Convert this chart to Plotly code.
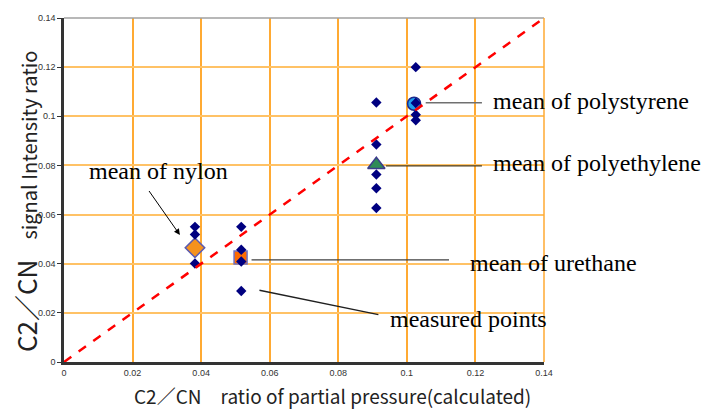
import plotly.graph_objects as go

# Measured points (x = calculated ratio, y = measured signal intensity ratio)
nylon_x = 0.0382
nylon_y = [0.0550, 0.0519, 0.0401]
urethane_x = 0.0517
urethane_y = [0.0550, 0.0457, 0.0409, 0.0289]
polyethylene_x = 0.0911
polyethylene_y = [0.1056, 0.0885, 0.0763, 0.0707, 0.0627]
polystyrene_x = 0.1026
polystyrene_y = [0.1200, 0.1054, 0.1006, 0.0984]

# Means
mean_names = ["nylon", "urethane", "polyethylene", "polystyrene"]
mean_x = [0.0382, 0.0515, 0.0911, 0.1021]
mean_y = [0.0465, 0.0425, 0.0803, 0.1051]

# y = x reference line
diag = [0, 0.14]

tick_vals = [0, 0.02, 0.04, 0.06, 0.08, 0.1, 0.12, 0.14]
tick_text = ["0", "0.02", "0.04", "0.06", "0.08", "0.1", "0.12", "0.14"]

meas_x = ([nylon_x] * len(nylon_y) + [urethane_x] * len(urethane_y)
          + [polyethylene_x] * len(polyethylene_y) + [polystyrene_x] * len(polystyrene_y))
meas_y = nylon_y + urethane_y + polyethylene_y + polystyrene_y

fig = go.Figure()

mean_styles = {
    "nylon": dict(symbol="diamond", size=15, color="#F5921E", line=dict(color="#5A5AB0", width=1.5)),
    "urethane": dict(symbol="square", size=13, color="#FF6A00", line=dict(color="#7070C0", width=1.5)),
    "polyethylene": dict(symbol="triangle-up", size=15, color="#2E8B57", line=dict(color="#3C3C8C", width=1.5)),
    "polystyrene": dict(symbol="circle", size=13, color="#1EA0F0", line=dict(color="#1E2A8C", width=1.5)),
}
for name, mx, my in zip(mean_names, mean_x, mean_y):
    fig.add_trace(go.Scatter(x=[mx], y=[my], mode="markers", marker=mean_styles[name],
                             showlegend=False, cliponaxis=False))

fig.add_trace(go.Scatter(x=meas_x, y=meas_y, mode="markers",
                         marker=dict(symbol="diamond", size=8, color="#000080"),
                         showlegend=False))

fig.add_trace(go.Scatter(x=diag, y=diag, mode="lines",
                         line=dict(color="#FF0000", width=2.5, dash="dash"),
                         showlegend=False))

serif = dict(family="Liberation Serif, Times New Roman, serif", size=24, color="#000000")

# leader lines
def seg(x0, y0, x1, y1, color):
    fig.add_shape(type="line", x0=x0, y0=y0, x1=x1, y1=y1, xref="x", yref="y",
                  line=dict(color=color, width=1.3))

seg(0.1055, 0.1055, 0.1219, 0.1055, "#707070")
seg(0.0939, 0.0798, 0.1219, 0.0798, "#4A3C20")
seg(0.0547, 0.0416, 0.1123, 0.0416, "#404040")
seg(0.0570, 0.0292, 0.0917, 0.0193, "#202020")

labels = [
    ("mean of polystyrene", 0.1245, 0.1063),
    ("mean of polyethylene", 0.1245, 0.0810),
    ("mean of urethane", 0.1178, 0.0401),
    ("measured points", 0.0945, 0.0177),
    ("mean of nylon", 0.0067, 0.0778),
]
for txt, tx, ty in labels:
    fig.add_annotation(x=tx, y=ty, xref="x", yref="y", text=txt, showarrow=False,
                       xanchor="left", yanchor="middle", font=serif)

fig.add_annotation(x=0.0338, y=0.0517, ax=0.0245, ay=0.0702, xref="x", yref="y",
                   axref="x", ayref="y", text="", showarrow=True, arrowhead=2,
                   arrowsize=1.2, arrowwidth=1, arrowcolor="#000000")

# axis titles
cjk = "Noto Sans CJK JP, sans-serif"
fig.add_annotation(x=0.5, y=0, xref="paper", yref="paper", xanchor="center", yanchor="middle",
                   xshift=28, yshift=-33, showarrow=False,
                   text="C2／CN　ratio of partial pressure(calculated)",
                   font=dict(family=cjk, size=19, color="#222222"))
fig.add_annotation(x=0, y=0.5, xref="paper", yref="paper", xanchor="center", yanchor="middle",
                   xshift=-39, yshift=-12, showarrow=False, textangle=-90,
                   text="<span style='font-size:26px'>C2／CN</span>　signal Intensity ratio",
                   font=dict(family=cjk, size=20, color="#222222"))

# top border (gray) and right border (orange)
fig.add_shape(type="line", x0=0, x1=1, y0=1, y1=1, xref="paper", yref="paper",
              line=dict(color="#A0A0A0", width=1.5))
fig.add_shape(type="line", x0=1, x1=1, y0=0, y1=1, xref="paper", yref="paper",
              line=dict(color="#FFAA33", width=1.5))

fig.update_layout(
    width=703, height=402,
    margin=dict(l=56, r=167, t=5, b=48),
    plot_bgcolor="#FFFFFF", paper_bgcolor="#FFFFFF",
    xaxis=dict(range=[0, 0.14], tickvals=tick_vals, ticktext=tick_text,
               showgrid=True, gridcolor="#FFAA33", gridwidth=1.5,
               showline=True, linecolor="#333333", linewidth=2.5,
               zeroline=False, ticks="",
               tickfont=dict(family="Liberation Sans, Arial", size=9, color="#333333")),
    yaxis=dict(range=[0, 0.14], tickvals=tick_vals, ticktext=tick_text,
               showgrid=True, gridcolor="#FFC266", gridwidth=1.5,
               showline=True, linecolor="#333333", linewidth=2.5,
               zeroline=False, ticks="outside", ticklen=4, tickcolor="#333333",
               tickfont=dict(family="Liberation Sans, Arial", size=9, color="#333333")),
)

fig.write_html("out.html")
